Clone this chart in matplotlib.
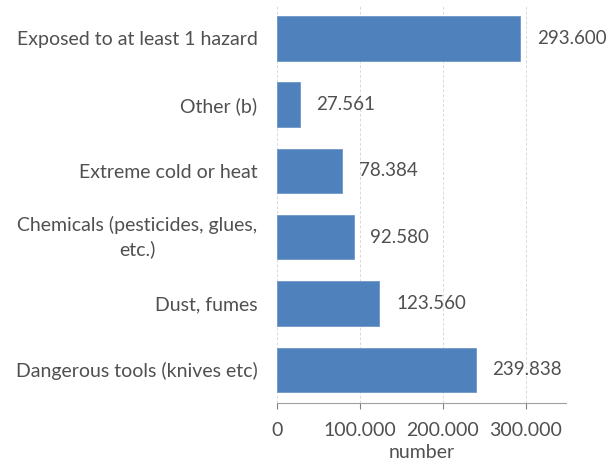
import matplotlib
matplotlib.use("Agg")
import matplotlib.pyplot as plt
from matplotlib.ticker import FuncFormatter

categories = [
    "Exposed to at least 1 hazard",
    "Other (b)",
    "Extreme cold or heat",
    "Chemicals (pesticides, glues,\netc.)",
    "Dust, fumes",
    "Dangerous tools (knives etc)",
]
values = [293600, 27561, 78384, 92580, 123560, 239838]
ticks = [0, 100000, 200000, 300000]

BAR = "#4F81BD"
TEXT = "#505050"

plt.rcParams["font.family"] = ["Lato", "DejaVu Sans"]


def dotted(v):
    return f"{int(v):,}".replace(",", ".")


fig = plt.figure(figsize=(6.16, 4.67), dpi=100)
ax = fig.add_axes([0.4497, 0.137, 0.4708, 0.852])

pos = list(range(len(categories)))
ax.barh(pos, values, height=0.67, color=BAR, edgecolor="#6E97C8", linewidth=0.6, zorder=3)
ax.set_ylim(len(categories) - 0.5, -0.5)
ax.set_xlim(0, 350000)

for y, v in zip(pos, values):
    ax.annotate(dotted(v), (v, y), xytext=(12, 0), textcoords="offset points",
                va="center", ha="left", fontsize=13.5, color=TEXT)

ax.set_yticks(pos)
ax.set_yticklabels(categories, fontsize=14, color=TEXT,
                   multialignment="center", linespacing=1.45)
ax.tick_params(axis="y", length=0, pad=14)
for lbl in ax.get_yticklabels():
    if "\n" in lbl.get_text():
        lbl.set_verticalalignment("center")

ax.set_xticks(ticks)
ax.xaxis.set_major_formatter(FuncFormatter(lambda v, p: dotted(v)))
ax.tick_params(axis="x", labelsize=14, labelcolor=TEXT, colors="#808080",
               length=4, width=0.8, direction="out", pad=10)
ax.set_xlabel("number", fontsize=14, color=TEXT, labelpad=3)

ax.grid(axis="x", color="#D9D9D9", linestyle=(0, (3, 2)), linewidth=0.7, zorder=0)
for s in ["top", "right", "left"]:
    ax.spines[s].set_visible(False)
ax.spines["bottom"].set_color("#A0A0A0")
ax.spines["bottom"].set_linestyle((0, (2, 1)))
ax.spines["bottom"].set_linewidth(0.8)

fig.savefig("out.png", dpi=100)
